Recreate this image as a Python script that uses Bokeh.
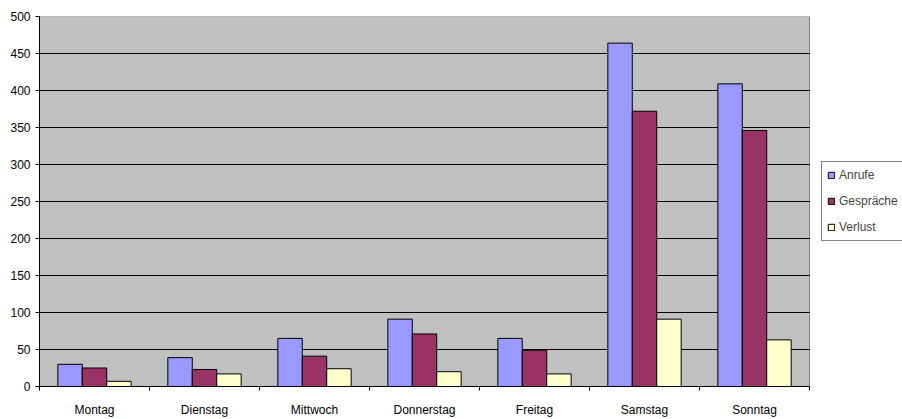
from bokeh.plotting import figure
from bokeh.models import ColumnDataSource, FixedTicker, Range1d, Legend, LegendItem, BoxAnnotation
from bokeh.embed import file_html
from bokeh.resources import INLINE

days = ["Montag", "Dienstag", "Mittwoch", "Donnerstag", "Freitag", "Samstag", "Sonntag"]
series_names = ["Anrufe", "Gespräche", "Verlust"]
anrufe = [30, 39, 65, 91, 65, 464, 409]
gespraeche = [25, 23, 41, 71, 49, 372, 346]
verlust = [7, 17, 24, 20, 17, 91, 63]
y_ticks = [0, 50, 100, 150, 200, 250, 300, 350, 400, 450, 500]

colors = ["#9999FF", "#993366", "#FFFFCC"]
FONT = "Liberation Sans"

n = len(days)
frame_left, frame_right, plot_right = 39, 902, 809
x_end = n * (frame_right - frame_left) / (plot_right - frame_left)

p = figure(width=902, height=419, output_backend="svg", toolbar_location=None,
           x_range=Range1d(0, x_end), y_range=Range1d(0, 500),
           min_border_left=frame_left, min_border_right=0, min_border_top=16, min_border_bottom=32)
p.border_fill_color = "white"
p.background_fill_color = "white"
p.outline_line_color = None

# plot area (gray) limited to the category span
p.add_layout(BoxAnnotation(left=0, right=n, bottom=0, top=500,
                           fill_color="#C0C0C0", fill_alpha=1,
                           line_color="#808080", line_alpha=1, line_width=1,
                           level="image"))

bw = 1.0 / 4.5
offsets = [-bw, 0, bw]
all_series = [anrufe, gespraeche, verlust]
renderers = []
for vals, off, col in zip(all_series, offsets, colors):
    src = ColumnDataSource(dict(x=[i + 0.5 + off for i in range(n)], top=vals))
    r = p.vbar(x="x", top="top", bottom=0, width=bw, source=src,
               fill_color=col, line_color="black", line_width=1)
    renderers.append(r)

# x axis: labels at centers, ticks at boundaries (minor ticks)
p.xaxis.ticker = FixedTicker(ticks=[i + 0.5 for i in range(n)],
                             minor_ticks=list(range(n + 1)))
p.xaxis.bounds = (0, n)
p.xaxis.major_label_overrides = {i + 0.5: d for i, d in enumerate(days)}
p.xaxis.major_tick_out = 0
p.xaxis.major_tick_in = 0
p.xaxis.minor_tick_out = 4
p.xaxis.minor_tick_in = 0
p.xaxis.minor_tick_line_color = "black"
p.xaxis.axis_line_color = "black"
p.xaxis.major_label_text_font = FONT
p.xaxis.major_label_text_font_size = "12px"
p.xaxis.major_label_text_color = "black"
p.xaxis.major_label_standoff = 12

p.yaxis.ticker = FixedTicker(ticks=y_ticks)
p.yaxis.major_tick_out = 4
p.yaxis.major_tick_in = 0
p.yaxis.minor_tick_line_color = None
p.yaxis.axis_line_color = "black"
p.yaxis.major_tick_line_color = "black"
p.yaxis.major_label_text_font = FONT
p.yaxis.major_label_text_font_size = "12px"
p.yaxis.major_label_text_color = "black"
p.yaxis.major_label_standoff = 5

p.xgrid.grid_line_color = None
p.ygrid.ticker = FixedTicker(ticks=y_ticks[1:-1])
p.ygrid.cross_bounds = (0, n)
p.ygrid.grid_line_color = "black"
p.ygrid.grid_line_width = 1

legend = Legend(items=[LegendItem(label=s, renderers=[r]) for s, r in zip(series_names, renderers)],
                location=(782, 145), orientation="vertical",
                border_line_color="black", border_line_width=1,
                background_fill_color="white", background_fill_alpha=1,
                label_text_font=FONT, label_text_font_size="12px",
                glyph_width=8, glyph_height=8, label_height=16, label_standoff=4,
                spacing=10, padding=5, margin=0)
p.add_layout(legend, "center")

open("out.html", "w").write(file_html(p, INLINE))
